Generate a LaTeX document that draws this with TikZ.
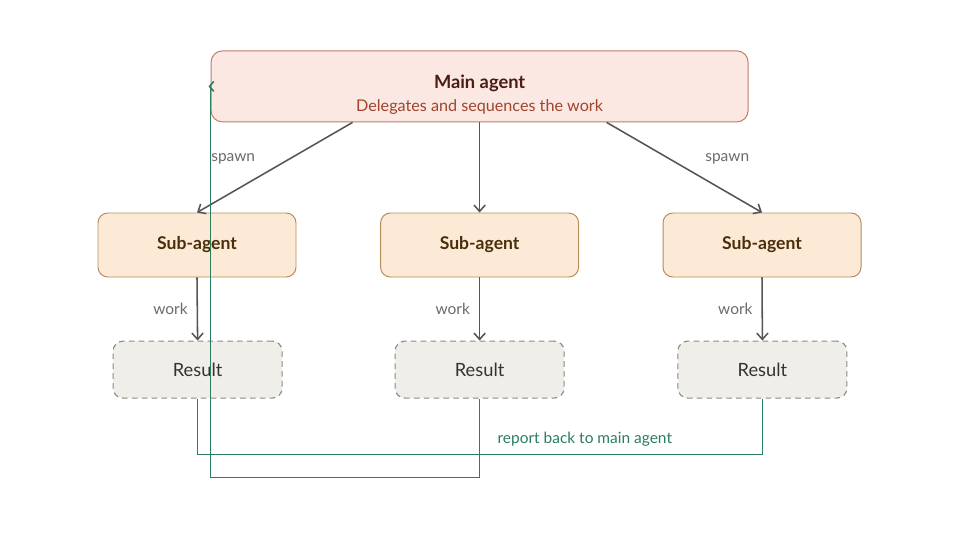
\documentclass[tikz,border=0pt]{standalone}
\usepackage{fontspec}
\setmainfont{Lato}
\usepackage{xcolor}
\usetikzlibrary{arrows.meta, positioning, calc}

\definecolor{mainfill}{HTML}{FCE8E3}
\definecolor{maindraw}{HTML}{C27A68}
\definecolor{maintitle}{HTML}{4A1C12}
\definecolor{mainsub}{HTML}{A0442C}
\definecolor{subfill}{HTML}{FCEAD7}
\definecolor{subdraw}{HTML}{B98A5A}
\definecolor{subtext}{HTML}{4A2E0A}
\definecolor{resfill}{HTML}{EFEEE9}
\definecolor{resdraw}{HTML}{8A8A8A}
\definecolor{flowgray}{HTML}{555555}
\definecolor{labelgray}{HTML}{6A6A6A}
\definecolor{reportgreen}{HTML}{2A7D5F}

\tikzset{
  mainbox/.style={draw=maindraw, fill=mainfill, rounded corners=8pt, line width=0.7pt,
    minimum width=13.425cm, minimum height=1.775cm},
  subbox/.style={draw=subdraw, fill=subfill, rounded corners=7pt, line width=0.7pt,
    minimum width=4.95cm, minimum height=1.6cm, text=subtext,
    font=\fontsize{12.5}{15}\selectfont\bfseries},
  resbox/.style={draw=resdraw, fill=resfill, rounded corners=7pt, line width=0.8pt,
    dash pattern=on 4pt off 3pt, minimum width=4.225cm, minimum height=1.425cm,
    text=black!80, font=\fontsize{13}{15}\selectfont},
  flow/.style={draw=flowgray, line width=1.1pt, -{Straight Barb[length=4.5pt,width=8pt]}},
  report/.style={draw=reportgreen, line width=1.1pt},
  lbl/.style={text=labelgray, font=\fontsize{11}{13}\selectfont}
}

\begin{document}
\begin{tikzpicture}
  \useasboundingbox (0,0) rectangle (24,13.5);

  % Main agent
  \node[mainbox] (main) at (11.99,11.34) {};
  \node[text=maintitle, font=\fontsize{13}{15}\selectfont\bfseries] (mtitle) at ([yshift=0.07cm]main.center) {Main agent};
  \node[text=mainsub, font=\fontsize{11.5}{13}\selectfont] (msub) at ([yshift=-0.51cm]main.center) {Delegates and sequences the work};

  % Sub-agents
  \node[subbox] (sub1) at (4.925,7.375) {Sub-agent};
  \node[subbox] (sub2) at (11.99,7.375) {Sub-agent};
  \node[subbox] (sub3) at (19.05,7.375) {Sub-agent};

  % Results
  \node[resbox] (res1) at (4.94,4.26) {Result};
  \node[resbox] (res2) at (11.99,4.26) {Result};
  \node[resbox] (res3) at (19.06,4.26) {Result};

  % spawn
  \draw[flow] ([xshift=-3.175cm]main.south) -- (sub1.north);
  \draw[flow] (main.south) -- (sub2.north);
  \draw[flow] ([xshift=3.175cm]main.south) -- (sub3.north);
  \node[lbl] (spawnl) at (5.83,9.53) {spawn};
  \node[lbl] (spawnr) at (18.18,9.53) {spawn};

  % work
  \foreach \i in {1,2,3}{
    \draw[flow] (sub\i.south) -- node[lbl, left=3pt] (work\i) {work} (res\i.north);
  }

  % report back
  \draw[report] (res1.south) -- ++(0,-1.4) -| (res3.south);
  \draw[report, -{Straight Barb[length=3pt,width=7pt]}] (res2.south) -- ++(0,-1.975) -| (main.west) -- ++(-1.5pt,0);
  \node[text=reportgreen, font=\fontsize{11}{13}\selectfont] (rlabel) at (14.62,2.52) {report back to main agent};
\end{tikzpicture}
\end{document}
